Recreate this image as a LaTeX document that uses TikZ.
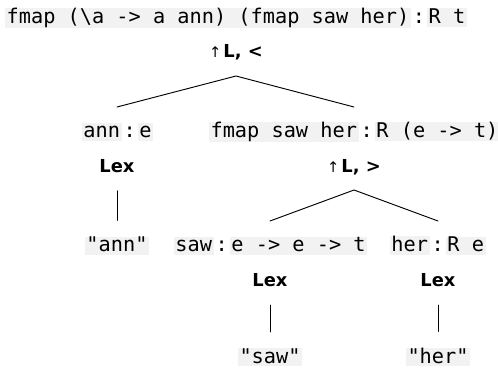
\documentclass[tikz,border=0pt]{standalone}
\usepackage{fontspec}
\setsansfont{DejaVu Sans}
\setmonofont{DejaVu Sans Mono}
\usepackage{xcolor}

\definecolor{codebg}{HTML}{F2F2F2}
% grey box behind a piece of code
\newcommand{\code}[1]{{\setlength{\fboxsep}{0pt}\colorbox{codebg}{\rule[-0.17em]{0pt}{0.91em}\kern1.2pt#1\kern1.2pt}}}
\newcommand{\of}{\kern1.5pt:\kern1.5pt}
\newcommand{\lift}{{\mdseries\fontsize{11}{12}\selectfont ↑}\kern1.5pt}

\begin{document}
\begin{tikzpicture}[x=0.75pt, y=-0.75pt, line join = round, line cap = round, line width=0.7pt,
  expr/.style={font=\ttfamily\fontsize{15.2}{18}\selectfont, inner sep=0pt, anchor=base},
  lbl/.style={font=\sffamily\bfseries\fontsize{13.4}{16}\selectfont, inner sep=0pt, anchor=base},
  stem/.style={shorten <=13.3pt, shorten >=11.8pt}]
\useasboundingbox (0,0) rectangle (498,368);

% typed terms
\node[expr] (root) at (236,23.3) {\code{fmap (\textbackslash a -> a ann) (fmap saw her)}\of\code{R t}};
\node[expr] (ann) at (117.5,137.6) {\code{ann}\of\code{e}};
\node[expr] (vp) at (354.5,137.6) {\code{fmap saw her}\of\code{R (e -> t)}};
\node[expr] (saw) at (270.5,251.6) {\code{saw}\of\code{e -> e -> t}};
\node[expr] (her) at (437.7,251.6) {\code{her}\of\code{R e}};

% rules
\node[lbl] (ruletop) at (236,57.3) {\lift L, <};
\node[lbl] (lexann) at (117,172.3) {Lex};
\node[lbl] (rulevp) at (354,172.3) {\lift L, >};
\node[lbl] (lexsaw) at (270,286.7) {Lex};
\node[lbl] (lexher) at (438,286.7) {Lex};

% words
\node[expr] (wann) at (117,251.6) {\code{"ann"}};
\node[expr] (wsaw) at (270,363) {\code{"saw"}};
\node[expr] (wher) at (438,363) {\code{"her"}};

% branches
\coordinate [] (T) at (236,76);
\coordinate [] (TL) at (117,107);
\coordinate [] (TR) at (354,107);
\coordinate [] (V) at (354,190);
\coordinate [] (VL) at (270,221);
\coordinate [] (VR) at (438,221);
\draw (TL) -- (T) -- (TR);
\draw (VL) -- (V) -- (VR);
\foreach \i/\j in {lexann/wann,lexsaw/wsaw,lexher/wher}
    \draw[stem] (\i.south) -- (\j.north);
\end{tikzpicture}
\end{document}
